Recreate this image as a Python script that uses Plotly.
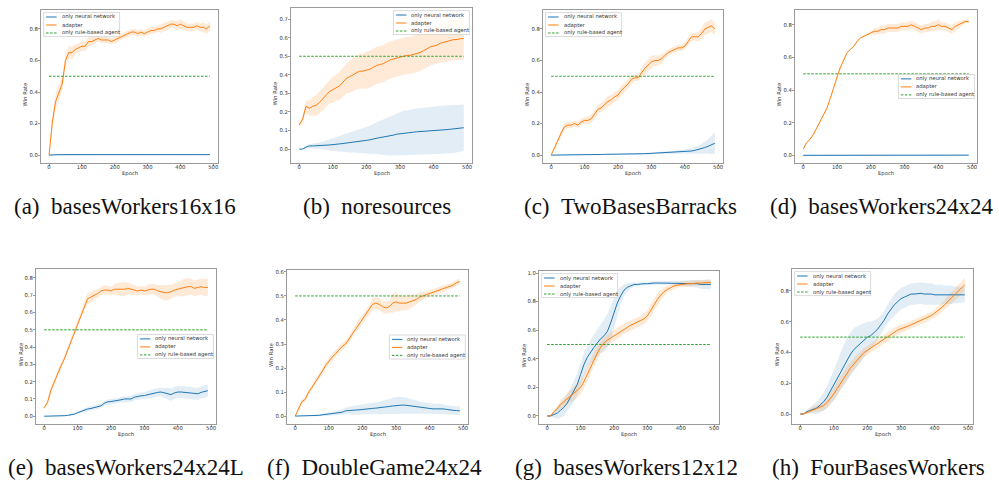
import numpy as np
import plotly.graph_objects as go

W, H = 999, 482

EPOCHS = [0, 10, 20, 30, 40, 50, 60, 70, 80, 90,
          100, 110, 120, 130, 140, 150, 160, 170, 180, 190,
          200, 210, 220, 230, 240, 250, 260, 270, 280, 290,
          300, 310, 320, 330, 340, 350, 360, 370, 380, 390,
          400, 410, 420, 430, 440, 450, 460, 470, 480, 490]
X_TICKS = [0, 100, 200, 300, 400, 500]
RULE_WIN_RATE = 0.5
SERIES_NAMES = ["only neural network", "adapter", "only rule-based agent"]
CAPTIONS = ["(a)\u2002basesWorkers16x16", "(b)\u2002noresources", "(c)\u2002TwoBasesBarracks",
            "(d)\u2002basesWorkers24x24", "(e)\u2002basesWorkers24x24L", "(f)\u2002DoubleGame24x24",
            "(g)\u2002basesWorkers12x12", "(h)\u2002FourBasesWorkers"]

# (a) basesWorkers16x16
a_nn = [0.000, 0.002, 0.003, 0.003, 0.003, 0.003, 0.003, 0.003, 0.003, 0.003,
        0.003, 0.003, 0.003, 0.003, 0.003, 0.003, 0.003, 0.003, 0.003, 0.003,
        0.003, 0.003, 0.003, 0.003, 0.003, 0.003, 0.003, 0.003, 0.003, 0.003,
        0.003, 0.003, 0.003, 0.003, 0.003, 0.003, 0.003, 0.003, 0.003, 0.003,
        0.003, 0.003, 0.003, 0.003, 0.003, 0.003, 0.003, 0.003, 0.003, 0.003]
a_nn_sd = [0.003, 0.004, 0.004, 0.004, 0.004, 0.004, 0.004, 0.004, 0.004, 0.004,
           0.004, 0.004, 0.004, 0.004, 0.004, 0.004, 0.004, 0.004, 0.004, 0.004,
           0.004, 0.004, 0.004, 0.004, 0.004, 0.004, 0.004, 0.004, 0.004, 0.004,
           0.003, 0.003, 0.003, 0.003, 0.003, 0.003, 0.003, 0.003, 0.003, 0.003,
           0.003, 0.003, 0.003, 0.003, 0.003, 0.003, 0.003, 0.003, 0.003, 0.003]
a_ad = [0.00, 0.21, 0.34, 0.40, 0.45, 0.60, 0.65, 0.65, 0.67, 0.68,
        0.69, 0.69, 0.72, 0.72, 0.73, 0.74, 0.73, 0.73, 0.73, 0.72,
        0.73, 0.74, 0.75, 0.76, 0.77, 0.78, 0.78, 0.77, 0.78, 0.77,
        0.78, 0.79, 0.79, 0.80, 0.80, 0.81, 0.82, 0.83, 0.83, 0.82,
        0.83, 0.82, 0.81, 0.81, 0.81, 0.82, 0.81, 0.81, 0.80, 0.82]
a_ad_sd = [0.01, 0.04, 0.05, 0.05, 0.04, 0.04, 0.04, 0.04, 0.03, 0.03,
           0.03, 0.03, 0.03, 0.03, 0.02, 0.02, 0.02, 0.02, 0.02, 0.02,
           0.02, 0.02, 0.02, 0.02, 0.02, 0.02, 0.02, 0.02, 0.02, 0.02,
           0.02, 0.02, 0.02, 0.02, 0.025, 0.025, 0.025, 0.025, 0.025, 0.03,
           0.03, 0.025, 0.025, 0.025, 0.025, 0.025, 0.025, 0.03, 0.03, 0.03]

# (b) noresources
b_nn = [0.000, 0.000, 0.010, 0.017, 0.017, 0.017, 0.018, 0.020, 0.021, 0.022,
        0.023, 0.026, 0.028, 0.030, 0.033, 0.035, 0.037, 0.040, 0.043, 0.045,
        0.047, 0.050, 0.055, 0.058, 0.062, 0.065, 0.067, 0.070, 0.075, 0.080,
        0.083, 0.086, 0.088, 0.090, 0.091, 0.093, 0.094, 0.096, 0.098, 0.100,
        0.101, 0.102, 0.103, 0.104, 0.105, 0.107, 0.109, 0.111, 0.113, 0.115]
b_nn_sd = [0.000, 0.002, 0.006, 0.010, 0.012, 0.015, 0.018, 0.020, 0.025, 0.030,
           0.035, 0.040, 0.043, 0.046, 0.050, 0.053, 0.056, 0.060, 0.063, 0.066,
           0.070, 0.075, 0.080, 0.085, 0.090, 0.095, 0.100, 0.105, 0.110, 0.113,
           0.116, 0.120, 0.120, 0.122, 0.124, 0.125, 0.126, 0.127, 0.128, 0.128,
           0.128, 0.129, 0.130, 0.130, 0.130, 0.130, 0.130, 0.130, 0.128, 0.125]
b_ad = [0.13, 0.16, 0.23, 0.22, 0.23, 0.235, 0.25, 0.27, 0.29, 0.31,
        0.32, 0.33, 0.34, 0.36, 0.38, 0.39, 0.40, 0.41, 0.42, 0.42,
        0.425, 0.43, 0.44, 0.45, 0.455, 0.46, 0.47, 0.48, 0.485, 0.49,
        0.495, 0.50, 0.505, 0.505, 0.51, 0.515, 0.52, 0.53, 0.54, 0.55,
        0.555, 0.56, 0.57, 0.575, 0.58, 0.585, 0.59, 0.59, 0.595, 0.595]
b_ad_sd = [0.01, 0.02, 0.03, 0.04, 0.05, 0.055, 0.06, 0.06, 0.065, 0.065,
           0.07, 0.07, 0.075, 0.08, 0.08, 0.085, 0.09, 0.09, 0.095, 0.095,
           0.10, 0.10, 0.10, 0.10, 0.10, 0.10, 0.10, 0.10, 0.10, 0.10,
           0.10, 0.10, 0.10, 0.10, 0.10, 0.10, 0.10, 0.10, 0.10, 0.10,
           0.10, 0.10, 0.105, 0.105, 0.11, 0.11, 0.11, 0.11, 0.115, 0.115]

# (c) TwoBasesBarracks
c_nn = [0.000, 0.000, 0.004, 0.004, 0.004, 0.004, 0.004, 0.004, 0.004, 0.004,
        0.004, 0.004, 0.004, 0.004, 0.004, 0.004, 0.005, 0.005, 0.005, 0.005,
        0.005, 0.005, 0.005, 0.006, 0.006, 0.006, 0.006, 0.008, 0.009, 0.010,
        0.011, 0.012, 0.013, 0.014, 0.015, 0.016, 0.017, 0.018, 0.019, 0.020,
        0.021, 0.023, 0.026, 0.030, 0.035, 0.041, 0.048, 0.056, 0.065, 0.075]
c_nn_sd = [0.000, 0.002, 0.002, 0.002, 0.002, 0.002, 0.002, 0.002, 0.002, 0.002,
           0.002, 0.002, 0.002, 0.002, 0.002, 0.002, 0.002, 0.002, 0.002, 0.002,
           0.002, 0.002, 0.002, 0.002, 0.003, 0.003, 0.003, 0.004, 0.004, 0.005,
           0.005, 0.006, 0.006, 0.007, 0.007, 0.008, 0.009, 0.010, 0.011, 0.012,
           0.012, 0.015, 0.018, 0.020, 0.025, 0.030, 0.038, 0.045, 0.060, 0.070]
c_ad = [0.00, 0.05, 0.09, 0.14, 0.18, 0.19, 0.19, 0.20, 0.19, 0.21,
        0.22, 0.22, 0.23, 0.26, 0.29, 0.30, 0.32, 0.34, 0.35, 0.37,
        0.38, 0.41, 0.43, 0.45, 0.48, 0.49, 0.49, 0.52, 0.55, 0.57,
        0.59, 0.60, 0.60, 0.61, 0.63, 0.65, 0.66, 0.67, 0.68, 0.68,
        0.69, 0.72, 0.75, 0.75, 0.75, 0.77, 0.80, 0.81, 0.82, 0.80]
c_ad_sd = [0.005, 0.01, 0.015, 0.02, 0.02, 0.02, 0.02, 0.02, 0.02, 0.02,
           0.02, 0.025, 0.025, 0.03, 0.03, 0.03, 0.035, 0.035, 0.03, 0.03,
           0.03, 0.03, 0.03, 0.03, 0.03, 0.02, 0.02, 0.03, 0.035, 0.04,
           0.04, 0.035, 0.03, 0.03, 0.02, 0.02, 0.02, 0.02, 0.02, 0.02,
           0.02, 0.025, 0.025, 0.025, 0.03, 0.035, 0.04, 0.04, 0.04, 0.04]

# (d) basesWorkers24x24
d_nn = [0.002, 0.002, 0.002, 0.002, 0.002, 0.002, 0.002, 0.002, 0.002, 0.002,
        0.002, 0.002, 0.002, 0.002, 0.002, 0.002, 0.003, 0.003, 0.003, 0.003,
        0.003, 0.003, 0.003, 0.003, 0.003, 0.003, 0.003, 0.003, 0.003, 0.003,
        0.003, 0.003, 0.003, 0.003, 0.003, 0.003, 0.003, 0.003, 0.003, 0.003,
        0.003, 0.003, 0.003, 0.003, 0.003, 0.003, 0.003, 0.003, 0.003, 0.003]
d_nn_sd = [0.004, 0.004, 0.004, 0.004, 0.004, 0.004, 0.004, 0.004, 0.004, 0.004,
           0.004, 0.004, 0.004, 0.004, 0.004, 0.004, 0.002, 0.002, 0.002, 0.002,
           0.002, 0.002, 0.002, 0.002, 0.002, 0.002, 0.002, 0.002, 0.002, 0.002,
           0.002, 0.002, 0.002, 0.002, 0.004, 0.004, 0.004, 0.004, 0.004, 0.004,
           0.004, 0.004, 0.004, 0.002, 0.002, 0.002, 0.002, 0.002, 0.002, 0.002]
d_ad = [0.04, 0.08, 0.10, 0.13, 0.17, 0.21, 0.25, 0.29, 0.35, 0.42,
        0.48, 0.54, 0.59, 0.63, 0.65, 0.67, 0.70, 0.72, 0.73, 0.74,
        0.75, 0.76, 0.76, 0.77, 0.77, 0.78, 0.78, 0.78, 0.78, 0.79,
        0.79, 0.79, 0.80, 0.79, 0.78, 0.77, 0.78, 0.78, 0.79, 0.79,
        0.80, 0.79, 0.79, 0.78, 0.77, 0.79, 0.80, 0.81, 0.82, 0.82]
d_ad_sd = [0.005, 0.005, 0.005, 0.005, 0.005, 0.005, 0.005, 0.005, 0.005, 0.005,
           0.005, 0.005, 0.005, 0.005, 0.005, 0.005, 0.005, 0.005, 0.005, 0.005,
           0.01, 0.02, 0.02, 0.025, 0.025, 0.025, 0.025, 0.025, 0.025, 0.025,
           0.025, 0.025, 0.025, 0.025, 0.025, 0.025, 0.025, 0.025, 0.03, 0.03,
           0.03, 0.025, 0.025, 0.025, 0.025, 0.025, 0.02, 0.015, 0.01, 0.01]

# (e) basesWorkers24x24L
e_nn = [0.000, 0.000, 0.000, 0.001, 0.002, 0.003, 0.003, 0.005, 0.008, 0.012,
        0.020, 0.028, 0.035, 0.042, 0.045, 0.050, 0.055, 0.060, 0.075, 0.083,
        0.085, 0.087, 0.090, 0.095, 0.100, 0.098, 0.100, 0.110, 0.115, 0.118,
        0.120, 0.125, 0.128, 0.135, 0.138, 0.140, 0.135, 0.130, 0.125, 0.135,
        0.140, 0.140, 0.138, 0.135, 0.135, 0.130, 0.130, 0.138, 0.145, 0.148]
e_nn_sd = [0.000, 0.000, 0.000, 0.001, 0.002, 0.003, 0.003, 0.004, 0.005, 0.006,
           0.008, 0.010, 0.010, 0.012, 0.012, 0.012, 0.012, 0.013, 0.013, 0.014,
           0.015, 0.015, 0.015, 0.016, 0.016, 0.017, 0.018, 0.018, 0.020, 0.020,
           0.020, 0.022, 0.022, 0.024, 0.025, 0.025, 0.030, 0.035, 0.035, 0.035,
           0.035, 0.035, 0.035, 0.035, 0.035, 0.035, 0.035, 0.035, 0.035, 0.035]
e_ad = [0.05, 0.08, 0.15, 0.20, 0.25, 0.29, 0.33, 0.38, 0.43, 0.49,
        0.54, 0.59, 0.64, 0.68, 0.69, 0.70, 0.71, 0.725, 0.73, 0.73,
        0.725, 0.735, 0.735, 0.735, 0.735, 0.74, 0.735, 0.73, 0.725, 0.73,
        0.725, 0.73, 0.735, 0.735, 0.725, 0.72, 0.715, 0.715, 0.72, 0.73,
        0.735, 0.74, 0.745, 0.75, 0.75, 0.74, 0.745, 0.75, 0.745, 0.745]
e_ad_sd = [0.01, 0.015, 0.02, 0.02, 0.02, 0.02, 0.02, 0.02, 0.02, 0.02,
           0.02, 0.02, 0.025, 0.03, 0.03, 0.03, 0.025, 0.025, 0.025, 0.025,
           0.025, 0.03, 0.035, 0.04, 0.04, 0.035, 0.03, 0.03, 0.025, 0.025,
           0.025, 0.03, 0.03, 0.03, 0.035, 0.04, 0.045, 0.045, 0.04, 0.04,
           0.04, 0.045, 0.05, 0.05, 0.045, 0.045, 0.045, 0.045, 0.05, 0.05]

# (f) DoubleGame24x24
f_nn = [0.000, 0.000, 0.000, 0.000, 0.000, 0.001, 0.002, 0.003, 0.005, 0.007,
        0.009, 0.010, 0.012, 0.013, 0.016, 0.022, 0.024, 0.024, 0.025, 0.026,
        0.028, 0.030, 0.032, 0.032, 0.033, 0.034, 0.036, 0.038, 0.040, 0.042,
        0.044, 0.045, 0.046, 0.045, 0.043, 0.040, 0.038, 0.036, 0.034, 0.033,
        0.032, 0.030, 0.030, 0.031, 0.030, 0.028, 0.025, 0.024, 0.023, 0.022]
f_nn_sd = [0.000, 0.000, 0.001, 0.001, 0.002, 0.002, 0.003, 0.004, 0.005, 0.006,
           0.007, 0.008, 0.009, 0.010, 0.012, 0.014, 0.016, 0.018, 0.020, 0.020,
           0.020, 0.020, 0.022, 0.024, 0.025, 0.026, 0.028, 0.030, 0.032, 0.034,
           0.035, 0.035, 0.034, 0.032, 0.030, 0.028, 0.026, 0.025, 0.024, 0.023,
           0.022, 0.020, 0.020, 0.020, 0.020, 0.018, 0.018, 0.018, 0.018, 0.018]
f_ad = [0.00, 0.03, 0.06, 0.07, 0.10, 0.12, 0.14, 0.165, 0.185, 0.21,
        0.23, 0.245, 0.26, 0.275, 0.29, 0.30, 0.32, 0.34, 0.365, 0.385,
        0.40, 0.42, 0.44, 0.465, 0.47, 0.465, 0.455, 0.45, 0.455, 0.47,
        0.475, 0.47, 0.47, 0.47, 0.475, 0.48, 0.485, 0.495, 0.50, 0.505,
        0.51, 0.515, 0.52, 0.525, 0.53, 0.535, 0.54, 0.545, 0.555, 0.56]
f_ad_sd = [0.000, 0.010, 0.010, 0.010, 0.010, 0.012, 0.012, 0.012, 0.015, 0.015,
           0.015, 0.015, 0.015, 0.015, 0.015, 0.015, 0.015, 0.015, 0.015, 0.020,
           0.020, 0.020, 0.020, 0.025, 0.025, 0.025, 0.025, 0.025, 0.025, 0.040,
           0.040, 0.035, 0.030, 0.030, 0.030, 0.025, 0.020, 0.020, 0.015, 0.015,
           0.015, 0.015, 0.015, 0.012, 0.012, 0.012, 0.012, 0.012, 0.012, 0.012]

# (g) basesWorkers12x12
g_nn = [0.00, 0.00, 0.01, 0.02, 0.04, 0.06, 0.09, 0.13, 0.17, 0.22,
        0.29, 0.36, 0.41, 0.45, 0.48, 0.51, 0.54, 0.56, 0.59, 0.65,
        0.72, 0.79, 0.84, 0.88, 0.90, 0.91, 0.92, 0.92, 0.925, 0.925,
        0.925, 0.93, 0.93, 0.93, 0.93, 0.93, 0.93, 0.93, 0.93, 0.93,
        0.93, 0.93, 0.93, 0.93, 0.925, 0.925, 0.92, 0.92, 0.92, 0.92]
g_nn_sd = [0.000, 0.005, 0.020, 0.040, 0.050, 0.060, 0.060, 0.065, 0.070, 0.075,
           0.080, 0.080, 0.080, 0.085, 0.090, 0.095, 0.100, 0.110, 0.120, 0.120,
           0.110, 0.090, 0.060, 0.040, 0.030, 0.020, 0.015, 0.012, 0.010, 0.010,
           0.010, 0.010, 0.010, 0.010, 0.010, 0.010, 0.010, 0.010, 0.010, 0.012,
           0.015, 0.018, 0.020, 0.022, 0.025, 0.028, 0.030, 0.032, 0.035, 0.035]
g_ad = [0.00, 0.00, 0.03, 0.05, 0.08, 0.10, 0.12, 0.14, 0.16, 0.18,
        0.20, 0.24, 0.29, 0.34, 0.40, 0.44, 0.48, 0.51, 0.53, 0.545,
        0.56, 0.58, 0.595, 0.61, 0.625, 0.635, 0.645, 0.655, 0.665, 0.68,
        0.70, 0.74, 0.78, 0.815, 0.845, 0.87, 0.885, 0.90, 0.91, 0.915,
        0.92, 0.92, 0.925, 0.925, 0.93, 0.93, 0.93, 0.93, 0.935, 0.935]
g_ad_sd = [0.000, 0.005, 0.010, 0.020, 0.030, 0.035, 0.040, 0.045, 0.050, 0.050,
           0.050, 0.050, 0.050, 0.050, 0.050, 0.050, 0.045, 0.040, 0.040, 0.040,
           0.040, 0.040, 0.040, 0.035, 0.035, 0.035, 0.035, 0.035, 0.035, 0.040,
           0.040, 0.040, 0.040, 0.040, 0.035, 0.030, 0.025, 0.020, 0.020, 0.020,
           0.020, 0.020, 0.020, 0.020, 0.020, 0.020, 0.020, 0.020, 0.020, 0.020]

# (h) FourBasesWorkers
h_nn = [0.00, 0.00, 0.015, 0.025, 0.03, 0.04, 0.06, 0.08, 0.11, 0.15,
        0.19, 0.23, 0.28, 0.32, 0.36, 0.39, 0.42, 0.44, 0.46, 0.48,
        0.50, 0.51, 0.53, 0.55, 0.58, 0.61, 0.65, 0.68, 0.71, 0.73,
        0.75, 0.76, 0.77, 0.78, 0.78, 0.785, 0.785, 0.78, 0.78, 0.78,
        0.775, 0.775, 0.775, 0.775, 0.775, 0.775, 0.775, 0.775, 0.775, 0.775]
h_nn_sd = [0.000, 0.005, 0.015, 0.020, 0.030, 0.040, 0.050, 0.060, 0.070, 0.080,
           0.100, 0.110, 0.120, 0.130, 0.140, 0.140, 0.140, 0.130, 0.120, 0.110,
           0.100, 0.090, 0.080, 0.070, 0.060, 0.060, 0.060, 0.065, 0.070, 0.070,
           0.070, 0.070, 0.070, 0.070, 0.070, 0.070, 0.070, 0.070, 0.070, 0.070,
           0.065, 0.065, 0.065, 0.060, 0.060, 0.060, 0.055, 0.055, 0.050, 0.050]
h_ad = [0.00, 0.00, 0.01, 0.02, 0.03, 0.035, 0.045, 0.055, 0.075, 0.10,
        0.13, 0.165, 0.20, 0.235, 0.265, 0.30, 0.325, 0.35, 0.375, 0.40,
        0.415, 0.43, 0.445, 0.46, 0.475, 0.49, 0.50, 0.515, 0.53, 0.545,
        0.555, 0.56, 0.57, 0.58, 0.59, 0.60, 0.61, 0.615, 0.625, 0.64,
        0.655, 0.67, 0.69, 0.71, 0.735, 0.755, 0.775, 0.80, 0.82, 0.84]
h_ad_sd = [0.000, 0.005, 0.010, 0.015, 0.020, 0.020, 0.025, 0.030, 0.035, 0.040,
           0.040, 0.045, 0.045, 0.045, 0.045, 0.040, 0.040, 0.035, 0.035, 0.030,
           0.030, 0.030, 0.030, 0.030, 0.030, 0.030, 0.030, 0.030, 0.030, 0.030,
           0.025, 0.025, 0.025, 0.025, 0.025, 0.025, 0.025, 0.025, 0.025, 0.025,
           0.025, 0.030, 0.030, 0.030, 0.035, 0.035, 0.040, 0.040, 0.045, 0.045]

PANEL_DATA = [
    (a_nn, a_nn_sd, a_ad, a_ad_sd), (b_nn, b_nn_sd, b_ad, b_ad_sd),
    (c_nn, c_nn_sd, c_ad, c_ad_sd), (d_nn, d_nn_sd, d_ad, d_ad_sd),
    (e_nn, e_nn_sd, e_ad, e_ad_sd), (f_nn, f_nn_sd, f_ad, f_ad_sd),
    (g_nn, g_nn_sd, g_ad, g_ad_sd), (h_nn, h_nn_sd, h_ad, h_ad_sd),
]

# ---------- layout (pixels) ----------
BOXES = [(41, 10, 218, 163), (291, 8, 472, 163), (543, 10, 723, 163), (795, 10, 977, 163),
         (36, 269, 216, 424), (287, 270, 468, 424), (539, 271, 719, 424), (792, 269, 973, 424)]
YRANGES = [(-0.05, 0.92), (-0.075, 0.76), (-0.05, 0.92), (-0.045, 0.89),
           (-0.045, 0.852), (-0.033, 0.608), (-0.056, 1.014), (-0.065, 0.943)]
YDTICK = [0.2, 0.1, 0.2, 0.2, 0.1, 0.1, 0.2, 0.2]
LEG_LOC = ["ul", "ur", "ul", "cr", "cr", "cr", "ul", "ul"]
CAP_POS = [(125, 206), (377, 206), (630, 206), (881, 206),
           (126, 467), (374, 467), (626, 467), (878, 467)]

BLUE, ORANGE, GREEN = "#1f77b4", "#ff7f0e", "#2ca02c"
BLUE_F, ORANGE_F = "rgba(31,119,180,0.13)", "rgba(255,127,14,0.16)"
FONT = "DejaVu Sans"
FS = 5.3
AXC = "#9a9a9a"


def px(x):
    return x / W


def py(y):
    return 1 - y / H


fig = go.Figure()
shapes = []
annotations = []

for i, (nn, nn_sd, ad, ad_sd) in enumerate(PANEL_DATA):
    k = "" if i == 0 else str(i + 1)
    xa, ya = "x" + k, "y" + k
    nn_a, nn_s = np.array(nn), np.array(nn_sd)
    ad_a, ad_s = np.array(ad), np.array(ad_sd)
    ep = list(EPOCHS)
    for mean, sd, fcol in [(nn_a, nn_s, BLUE_F), (ad_a, ad_s, ORANGE_F)]:
        up = list(mean + sd)
        lo = list(mean - sd)
        fig.add_trace(go.Scatter(x=ep + ep[::-1], y=up + lo[::-1], fill="toself",
                                 fillcolor=fcol, line=dict(width=0), mode="lines",
                                 hoverinfo="skip", showlegend=False, xaxis=xa, yaxis=ya))
    fig.add_trace(go.Scatter(x=ep, y=nn, mode="lines", line=dict(color=BLUE, width=1),
                             name=SERIES_NAMES[0], showlegend=False, xaxis=xa, yaxis=ya))
    fig.add_trace(go.Scatter(x=ep, y=ad, mode="lines", line=dict(color=ORANGE, width=1),
                             name=SERIES_NAMES[1], showlegend=False, xaxis=xa, yaxis=ya))
    fig.add_trace(go.Scatter(x=[ep[0], ep[-1]], y=[RULE_WIN_RATE, RULE_WIN_RATE], mode="lines",
                             line=dict(color=GREEN, width=1, dash="2.5px,1.5px"),
                             name=SERIES_NAMES[2], showlegend=False, xaxis=xa, yaxis=ya))

    l, t, r, b = BOXES[i]
    axis_common = dict(showline=True, mirror=True, linecolor=AXC, linewidth=1,
                       ticks="outside", ticklen=2, tickwidth=0.8, tickcolor=AXC,
                       showgrid=False, zeroline=False,
                       tickfont=dict(family=FONT, size=FS, color="#333"))
    fig.update_layout({
        "xaxis" + k: dict(domain=[px(l), px(r)], anchor=ya, range=[-24.5, 514.5],
                          tickvals=X_TICKS, ticklabelstandoff=-3, **axis_common),
        "yaxis" + k: dict(domain=[py(b), py(t)], anchor=xa, range=list(YRANGES[i]),
                          tick0=0, dtick=YDTICK[i], tickformat=".1f",
                          ticklabelstandoff=-1, **axis_common),
    })

    # axis titles
    annotations.append(dict(text="Epoch", x=px((l + r) / 2), y=py(b + 10.5), xref="paper", yref="paper",
                            showarrow=False, xanchor="center", yanchor="middle",
                            font=dict(family=FONT, size=FS, color="#333")))
    annotations.append(dict(text="Win Rate", x=px(l - 16), y=py((t + b) / 2 + 8), xref="paper", yref="paper",
                            showarrow=False, xanchor="center", yanchor="middle", textangle=-90,
                            font=dict(family=FONT, size=FS, color="#333")))

    # legend
    lw, lh = 76, 24
    loc = LEG_LOC[i]
    if loc == "ul":
        L, T = l + 2.6, t + 2.6
    elif loc == "ur":
        L, T = r - 2.6 - lw, t + 2.6
    else:
        L, T = r - 2.6 - lw, (t + b) / 2 - lh / 2
    shapes.append(dict(type="rect", xref="paper", yref="paper", x0=px(L), x1=px(L + lw),
                       y0=py(T + lh), y1=py(T), line=dict(color="#d0d0d0", width=0.8),
                       fillcolor="rgba(255,255,255,0.8)", layer="above"))
    for j, (name, col, dash) in enumerate(zip(SERIES_NAMES, [BLUE, ORANGE, GREEN],
                                              ["solid", "solid", "2.5px,1.5px"])):
        yc = T + 4.4 + 8 * j
        shapes.append(dict(type="line", xref="paper", yref="paper", x0=px(L + 2.5), x1=px(L + 13),
                           y0=py(yc), y1=py(yc), line=dict(color=col, width=1, dash=dash),
                           layer="above"))
        annotations.append(dict(text=name, x=px(L + 16), y=py(yc), xref="paper", yref="paper",
                                showarrow=False, xanchor="left", yanchor="middle",
                                font=dict(family=FONT, size=FS, color="#333")))

    cx, cy = CAP_POS[i]
    annotations.append(dict(text=CAPTIONS[i], x=px(cx), y=py(cy), xref="paper", yref="paper",
                            showarrow=False, xanchor="center", yanchor="middle",
                            font=dict(family="Liberation Serif", size=23, color="#111")))

fig.update_layout(width=W, height=H, margin=dict(l=0, r=0, t=0, b=0),
                  paper_bgcolor="white", plot_bgcolor="white", showlegend=False,
                  shapes=shapes, annotations=annotations)
fig.write_html("out.html", config={"displayModeBar": False},
               post_script="document.body.style.margin='0';document.body.style.overflow='hidden';")
